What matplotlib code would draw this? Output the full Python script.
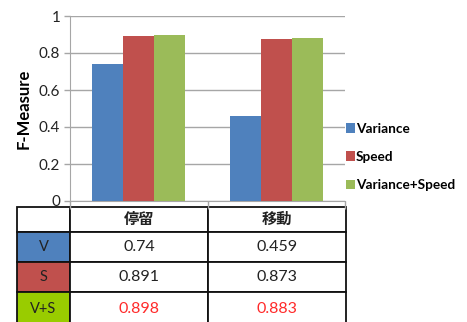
import matplotlib
matplotlib.use("Agg")
import matplotlib.pyplot as plt
import numpy as np

plt.rcParams['font.family'] = ['Lato', 'Noto Sans CJK JP', 'DejaVu Sans']

# data
categories = ['停留', '移動']
series_names = ['Variance', 'Speed', 'Variance+Speed']
row_labels = ['V', 'S', 'V+S']
variance = [0.74, 0.459]
speed = [0.891, 0.873]
var_speed = [0.898, 0.883]
yticks = [0, 0.2, 0.4, 0.6, 0.8, 1]

bar_colors = ['#4F81BD', '#C0504D', '#9BBB59']
cell_colors = ['#4F81BD', '#C0504D', '#99CC00']

fig = plt.figure(figsize=(4.67, 3.22), dpi=100)
W, H = 467, 322
ax = fig.add_axes([70 / W, 1 - 201 / H, 275 / W, 185 / H])

x = np.arange(len(categories))
bw = 0.225
for i, (vals, c) in enumerate(zip([variance, speed, var_speed], bar_colors)):
    ax.bar(x + (i - 1) * bw, vals, bw, color=c, label=series_names[i], zorder=3)

ax.set_xlim(-0.5, 1.5)
ax.set_ylim(0, 1)
ax.set_yticks(yticks)
ax.set_yticklabels([f'{t:g}' for t in yticks], fontsize=11, color='#222222')
ax.yaxis.grid(True, color='#a6a6a6', lw=1, zorder=0)
ax.set_xticks([-0.5, 0.5, 1.5])
ax.set_xticklabels([])
ax.tick_params(axis='x', length=6, color='#a6a6a6', width=1)
ax.tick_params(axis='y', length=4, color='#a6a6a6', width=1, pad=3)
for s in ['top', 'right']:
    ax.spines[s].set_visible(False)
for s in ['left', 'bottom']:
    ax.spines[s].set_color('#a6a6a6')
ax.set_ylabel('F-Measure', fontsize=12, fontweight='bold', labelpad=5)

ax.legend(loc='center left', bbox_to_anchor=(1.005, 0.238), frameon=False,
          prop={'weight': 'bold', 'size': 9.8},
          handlelength=0.6, handleheight=0.7, handletextpad=0.1,
          labelspacing=1.2, borderaxespad=0, borderpad=0)

# data table under the chart
cell_text = [[''] + categories]
cell_text += [[lab, f'{v[0]:g}', f'{v[1]:g}']
              for lab, v in zip(row_labels, [variance, speed, var_speed])]
tab = ax.table(cellText=cell_text, cellLoc='center',
               bbox=[-53 / 275, -125 / 185, 329 / 275, 119 / 185])
tab.auto_set_font_size(False)
col_w = [53, 138, 138]
row_h = [25, 30, 30, 34]
for (r, c), cell in tab.get_celld().items():
    cell.set_width(col_w[c])
    cell.set_height(row_h[r])
    cell.set_linewidth(1.3)
    cell.set_edgecolor('#111111')
    txt = cell.get_text()
    txt.set_fontsize(11.5)
    txt.set_color('#222222')
    if r > 0 and c == 0:
        cell.set_facecolor(cell_colors[r - 1])
        txt.set_fontsize(10.5)
    if r == 3 and c > 0:
        txt.set_color('#ff2a2a')
    if r == 0:
        txt.set_fontsize(11)
        txt.set_fontweight('bold')

fig.savefig('out.png', dpi=100)
